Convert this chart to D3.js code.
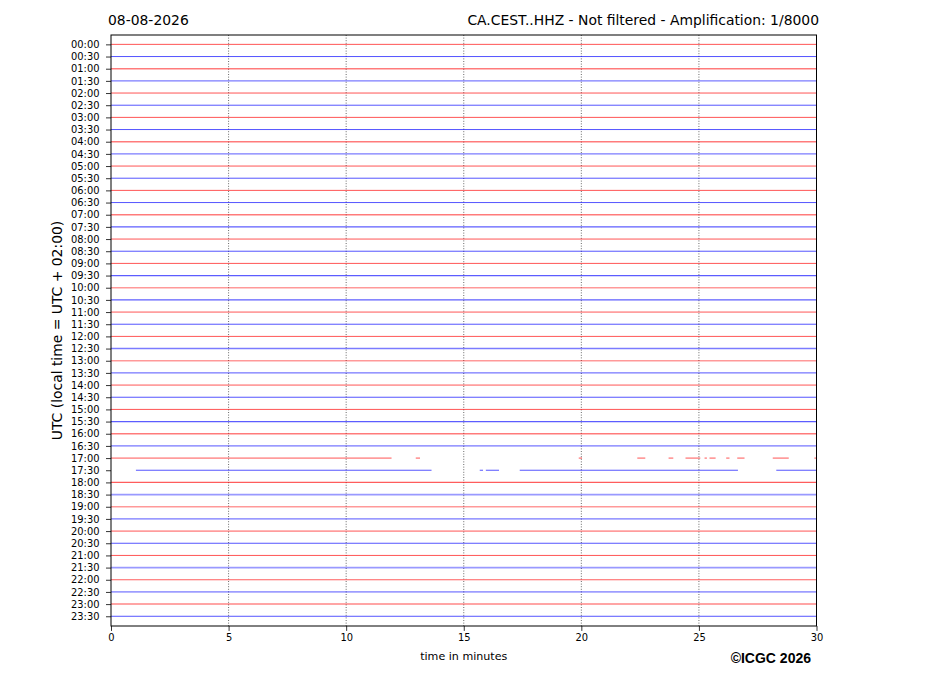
<!DOCTYPE html>
<html>
<head>
<meta charset="utf-8">
<script src="https://cdn.jsdelivr.net/npm/d3@7"></script>
<style>
  body { margin: 0; background: #fff; }
  svg text { font-family: "DejaVu Sans", sans-serif; }
</style>
</head>
<body>
<div id="chart"></div>
<script>
// row labels (UTC start of each 30 minute line)
const rowLabels = [
    "00:00", "00:30", "01:00", "01:30", "02:00", "02:30", "03:00", "03:30",
    "04:00", "04:30", "05:00", "05:30", "06:00", "06:30", "07:00", "07:30",
    "08:00", "08:30", "09:00", "09:30", "10:00", "10:30", "11:00", "11:30",
    "12:00", "12:30", "13:00", "13:30", "14:00", "14:30", "15:00", "15:30",
    "16:00", "16:30", "17:00", "17:30", "18:00", "18:30", "19:00", "19:30",
    "20:00", "20:30", "21:00", "21:30", "22:00", "22:30", "23:00", "23:30"
];

// rough noise level of each trace, read from the width of the band
const noiseLevel = [
    1, 1, 2, 2, 1, 1, 1, 1,
    2, 2, 1, 1, 1, 1, 2, 1.5,
    1, 1, 1, 1.5, 2.5, 1.5, 1, 1,
    1, 2, 2.5, 1, 1, 1, 1, 1.5,
    2, 1, 1, 1, 1.5, 2.5, 2.5, 1,
    1, 1, 1, 2.5, 1.5, 1, 1.2, 1
];

// spans with data (minutes); rows not listed are complete
const spans1700 = [
    [0, 11.93], [12.96, 13.14], [19.89, 20.03], [22.38, 22.72], [23.71, 23.91],
    [24.43, 25.06], [25.24, 25.34], [25.45, 25.71], [26.16, 26.30], [26.63, 26.94],
    [28.14, 28.82], [29.91, 30]
];
const spans1730 = [
    [1.06, 13.63], [15.68, 15.82], [15.94, 16.50], [17.38, 26.66], [28.29, 30]
];

const xTicks = [0, 5, 10, 15, 20, 25, 30];
const traceColors = ["red", "blue"];

const W = 927, H = 696;
const svg = d3.select("#chart").append("svg")
    .attr("width", W)
    .attr("height", H);

const x = d3.scaleLinear().domain([0, 30]).range([111, 816.5]);
const y = d3.scaleLinear().domain([-0.77, 47.8]).range([35, 626]);

const rows = rowLabels.map((label, i) => ({
    label,
    i,
    noise: noiseLevel[i],
    spans: label === "17:00" ? spans1700 : label === "17:30" ? spans1730 : [[0, 30]]
}));

// vertical dotted grid
svg.append("g")
    .selectAll("line")
    .data(xTicks.slice(1, -1))
    .join("line")
    .attr("x1", d => x(d)).attr("x2", d => x(d))
    .attr("y1", 35).attr("y2", 626)
    .attr("stroke", "#444")
    .attr("stroke-width", 0.8)
    .attr("stroke-dasharray", "1,1.6");

const widthScale = d3.scaleLinear().domain([1, 2.5]).range([0.9, 1.7]);
const opacityScale = d3.scaleLinear().domain([1, 2.5]).range([0.75, 0.4]);

const traces = svg.append("g");
rows.forEach(r => {
    traces.selectAll(null)
        .data(r.spans)
        .join("line")
        .attr("x1", d => x(d[0]))
        .attr("x2", d => x(d[1]))
        .attr("y1", y(r.i)).attr("y2", y(r.i))
        .attr("stroke", traceColors[r.i % 2])
        .attr("stroke-width", widthScale(r.noise))
        .attr("stroke-opacity", opacityScale(r.noise));
});

// axes
const yAxis = d3.axisLeft(y)
    .tickValues(rows.map(r => r.i))
    .tickFormat(i => rowLabels[i])
    .tickSize(5)
    .tickPadding(6.5);
const gy = svg.append("g")
    .attr("transform", `translate(${x(0)},0)`)
    .call(yAxis);
gy.select(".domain").remove();
gy.selectAll("text").style("font-size", "9.9px").attr("fill", "#000");
gy.selectAll("line").attr("stroke", "#000").attr("stroke-width", 0.8);

const xAxis = d3.axisBottom(x)
    .tickValues(xTicks)
    .tickFormat(d3.format("d"))
    .tickSize(4.9)
    .tickPadding(3);
const gx = svg.append("g")
    .attr("transform", `translate(0,626)`)
    .call(xAxis);
gx.select(".domain").remove();
gx.selectAll("text").style("font-size", "9.9px").attr("fill", "#000");
gx.selectAll("line").attr("stroke", "#000").attr("stroke-width", 0.8);

// frame
svg.append("rect")
    .attr("x", x(0)).attr("y", 35)
    .attr("width", x(30) - x(0)).attr("height", 626 - 35)
    .attr("fill", "none")
    .attr("stroke", "#000")
    .attr("stroke-width", 1);

// titles and labels
svg.append("text")
    .attr("x", 108).attr("y", 25)
    .style("font-size", "13.9px")
    .text("08-08-2026");

svg.append("text")
    .attr("x", 819).attr("y", 25)
    .attr("text-anchor", "end")
    .style("font-size", "13.9px")
    .text("CA.CEST..HHZ - Not filtered - Amplification: 1/8000");

svg.append("text")
    .attr("transform", `translate(62,${(35 + 626) / 2}) rotate(-90)`)
    .attr("text-anchor", "middle")
    .style("font-size", "13.9px")
    .text("UTC (local time = UTC + 02:00)");

svg.append("text")
    .attr("x", x(15)).attr("y", 660)
    .attr("text-anchor", "middle")
    .style("font-size", "11.1px")
    .text("time in minutes");

svg.append("text")
    .attr("x", 811).attr("y", 663)
    .attr("text-anchor", "end")
    .style("font-family", "'Liberation Sans', Arial, sans-serif")
    .style("font-size", "14px")
    .style("font-weight", "bold")
    .text("©ICGC 2026");
</script>
</body>
</html>
